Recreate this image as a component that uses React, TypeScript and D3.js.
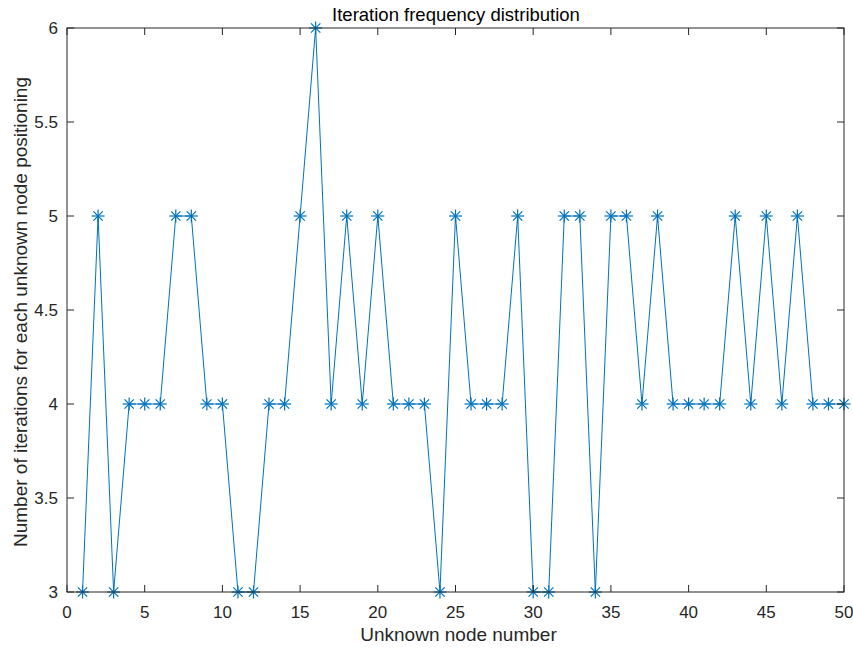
import React from "react";
import * as d3 from "d3";

const nodes: number[] = Array.from({ length: 50 }, (_, i) => i + 1);
const iterations: number[] = [
  3, 5, 3, 4, 4, 4, 5, 5, 4, 4,
  3, 3, 4, 4, 5, 6, 4, 5, 4, 5,
  4, 4, 4, 3, 5, 4, 4, 4, 5, 3,
  3, 5, 5, 3, 5, 5, 4, 5, 4, 4,
  4, 4, 5, 4, 5, 4, 5, 4, 4, 4,
];
const xTicks: number[] = [0, 5, 10, 15, 20, 25, 30, 35, 40, 45, 50];
const yTicks: number[] = [3, 3.5, 4, 4.5, 5, 5.5, 6];

const W = 853, H = 649;
const L = 67, T = 28, R = 844, B = 592;
const color = "#0072BD";
const axisColor = "#262626";
const font = "Arial, 'Liberation Sans', Helvetica, sans-serif";

export default function App() {
  const x = d3.scaleLinear().domain([0, 50]).range([L, R]);
  const y = d3.scaleLinear().domain([3, 6]).range([B, T]);
  const line = d3.line<number>().x((_, i) => x(nodes[i])).y((d) => y(d));
  const pts = nodes.map((n, i) => [x(n), y(iterations[i])]);
  const s = 6.5;
  const d2 = s * 0.72;
  const tick = 7;
  return (
    <svg width={W} height={H} style={{ position: "absolute", left: 0, top: 0, background: "#fff" }}>
      <rect x={0} y={0} width={W} height={H} fill="#fff" />
      <path d={line(iterations) || ""} fill="none" stroke={color} strokeWidth={1} />
      {pts.map(([px, py], i) => (
        <g key={i} stroke={color} strokeWidth={1.2}>
          <line x1={px - s} y1={py} x2={px + s} y2={py} />
          <line x1={px} y1={py - s} x2={px} y2={py + s} />
          <line x1={px - d2} y1={py - d2} x2={px + d2} y2={py + d2} />
          <line x1={px - d2} y1={py + d2} x2={px + d2} y2={py - d2} />
        </g>
      ))}
      <rect x={L} y={T} width={R - L} height={B - T} fill="none" stroke={axisColor} strokeWidth={1} />
      {xTicks.map((t) => (
        <g key={"x" + t}>
          <line x1={x(t)} x2={x(t)} y1={B} y2={B - tick} stroke={axisColor} />
          <line x1={x(t)} x2={x(t)} y1={T} y2={T + tick} stroke={axisColor} />
          <text x={x(t)} y={B + 26} textAnchor="middle" fontSize={17} fill={axisColor} fontFamily={font}>
            {t}
          </text>
        </g>
      ))}
      {yTicks.map((t) => (
        <g key={"y" + t}>
          <line x1={L} x2={L + tick} y1={y(t)} y2={y(t)} stroke={axisColor} />
          <line x1={R} x2={R - tick} y1={y(t)} y2={y(t)} stroke={axisColor} />
          <text x={L - 9} y={y(t) + 6} textAnchor="end" fontSize={17} fill={axisColor} fontFamily={font}>
            {t}
          </text>
        </g>
      ))}
      <text x={(L + R) / 2 + 0.5} y={21} textAnchor="middle" fontSize={18.5} fill="#000" fontFamily={font}>
        Iteration frequency distribution
      </text>
      <text x={(L + R) / 2 + 3} y={641} textAnchor="middle" fontSize={19} fill={axisColor} fontFamily={font}>
        Unknown node number
      </text>
      <text
        transform={`translate(27, ${(T + B) / 2 + 2}) rotate(-90)`}
        textAnchor="middle"
        fontSize={19}
        fill={axisColor}
        fontFamily={font}
      >
        Number of iterations for each unknown node positioning
      </text>
    </svg>
  );
}
